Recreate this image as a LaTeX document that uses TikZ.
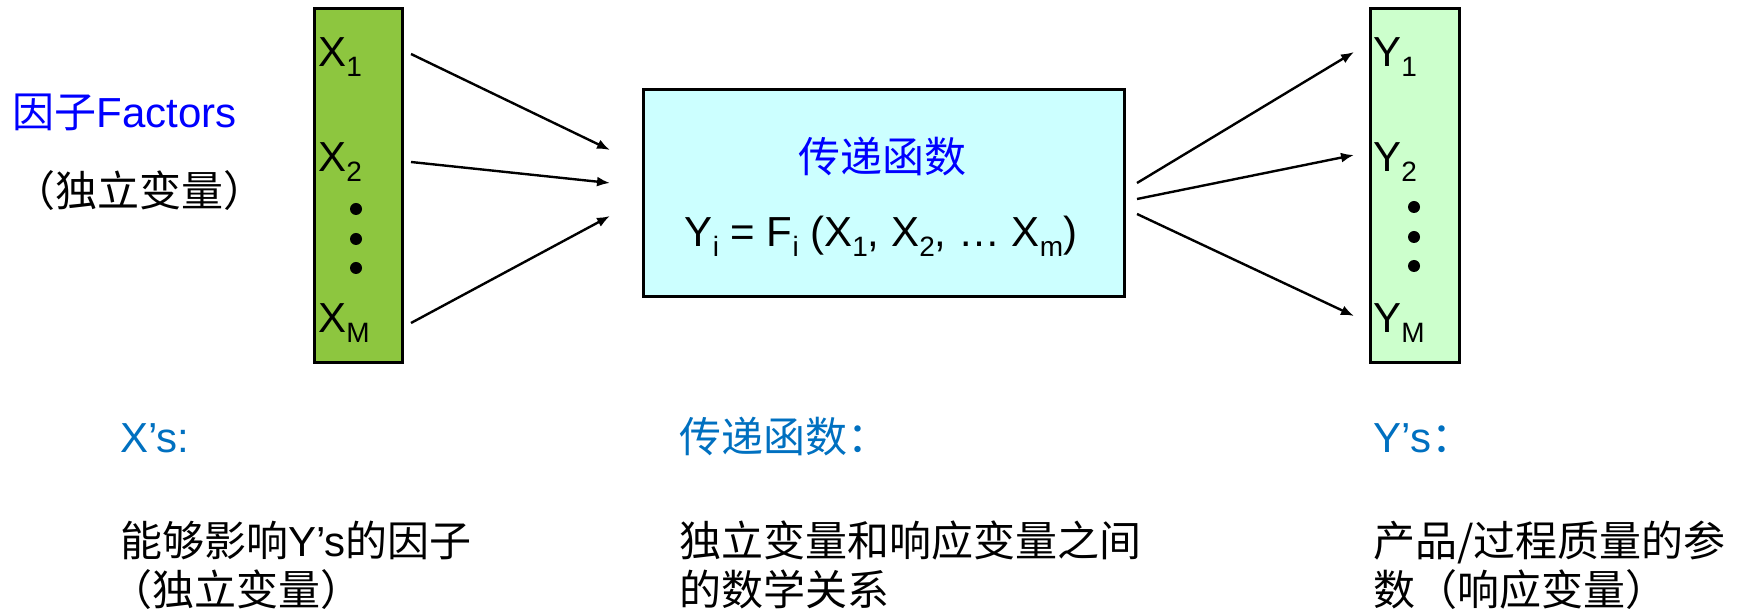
\documentclass[tikz,border=0pt]{standalone}
\usepackage{fontspec}
\setmainfont{Liberation Sans}
\newfontfamily\cjk{Noto Sans CJK SC}
\usetikzlibrary{arrows.meta}
\definecolor{xgreen}{RGB}{141,198,63}
\definecolor{ygreen}{RGB}{204,255,204}
\definecolor{fcyan}{RGB}{204,255,255}
\definecolor{hblue}{RGB}{0,112,192}
\definecolor{pblue}{RGB}{0,0,255}
\newcommand\lsub[1]{\raisebox{-5pt}{\fontsize{14}{16}\selectfont #1}}
\begin{document}
\begin{tikzpicture}[x=0.5pt,y=-0.5pt,
  txt/.style={inner sep=0pt, anchor=base west, font=\fontsize{21}{24}\selectfont},
  ctxt/.style={txt, font=\fontsize{21}{24}\selectfont\cjk},
  box/.style={draw=black, line width=1.5pt, inner sep=0pt, anchor=north west},
  conn/.style={line width=1.2pt, -{Latex[length=6.5pt,width=5pt]}},
  dotnode/.style={circle, fill=black, inner sep=0pt, minimum size=6pt}]
\useasboundingbox (0,0) rectangle (1739,613);
% boxes
\node[box, fill=xgreen, minimum width=44pt, minimum height=177pt] (xbox) at (313,7) {};
\node[box, fill=fcyan, minimum width=240.5pt, minimum height=103.5pt] (fbox) at (642,88) {};
\node[box, fill=ygreen, minimum width=44.5pt, minimum height=177pt] (ybox) at (1369,7) {};
% X labels
\node[txt] (x1) at (318,67) {X\lsub{1}};
\node[txt] (x2) at (318,172) {X\lsub{2}};
\node[txt] (xm) at (318,333) {X\lsub{M}};
\node[dotnode] (xd1) at (356,209) {};
\node[dotnode] (xd2) at (356,239) {};
\node[dotnode] (xd3) at (356,268) {};
% Y labels
\node[txt] (y1) at (1373,67) {Y\lsub{1}};
\node[txt] (y2) at (1373,172) {Y\lsub{2}};
\node[txt] (ym) at (1373,333) {Y\lsub{M}};
\node[dotnode] (yd1) at (1414,207) {};
\node[dotnode] (yd2) at (1414,237) {};
\node[dotnode] (yd3) at (1414,266) {};
% function box text
\node[ctxt, anchor=center, text=pblue] (ftitle) at (882,157) {传递函数};
\node[txt, anchor=base] (formula) at (881,247) {Y\lsub{i} = F\lsub{i} (X\lsub{1}, X\lsub{2}, … X\lsub{m})};
% left labels
\node[txt, text=pblue] (factors) at (12,128) {{\cjk 因子}Factors};
\node[ctxt, anchor=center] (indep) at (139,191) {（独立变量）};
% bottom headings
\node[txt, text=hblue] (hx) at (120,453) {X’s:};
\node[ctxt, text=hblue] (hf) at (679,453) {传递函数：};
\node[txt, text=hblue] (hy) at (1373,453) {Y’s{\cjk ：}};
% bottom descriptions
\node[ctxt] (dx1) at (120,557) {能够影响{\rmfamily Y’s}的因子};
\node[ctxt] (dx2) at (110,606) {（独立变量）};
\node[ctxt] (df1) at (679,557) {独立变量和响应变量之间};
\node[ctxt] (df2) at (679,606) {的数学关系};
\node[ctxt] (dy1) at (1373,557) {产品/过程质量的参};
\node[ctxt] (dy2) at (1373,606) {数（响应变量）};
% connector endpoints
\coordinate (a1s) at (411,54);  \coordinate (a1e) at (610,150);
\coordinate (a2s) at (411,162); \coordinate (a2e) at (610,183);
\coordinate (a3s) at (411,323); \coordinate (a3e) at (610,216);
\coordinate (b1s) at (1137,183); \coordinate (b1e) at (1354,52);
\coordinate (b2s) at (1137,199); \coordinate (b2e) at (1354,155);
\coordinate (b3s) at (1137,214); \coordinate (b3e) at (1354,316);
\draw[conn] (a1s) -- (a1e);
\draw[conn] (a2s) -- (a2e);
\draw[conn] (a3s) -- (a3e);
\draw[conn] (b1s) -- (b1e);
\draw[conn] (b2s) -- (b2e);
\draw[conn] (b3s) -- (b3e);
\end{tikzpicture}
\end{document}
